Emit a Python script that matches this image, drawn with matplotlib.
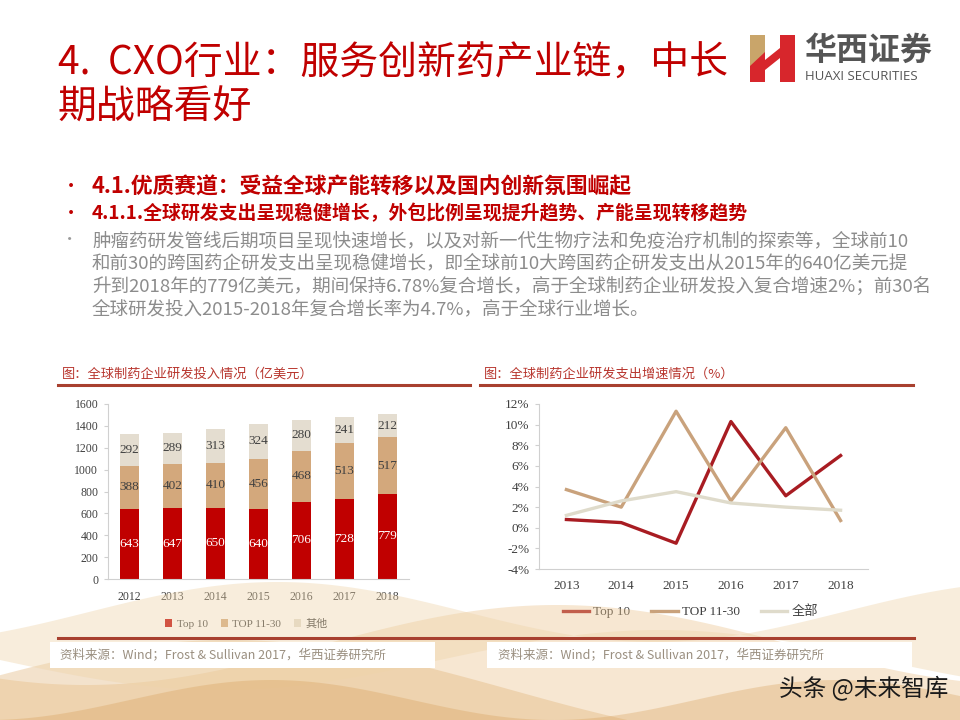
import numpy as np
import matplotlib.pyplot as plt
from matplotlib.patches import Polygon, Rectangle
from matplotlib.ticker import FuncFormatter

plt.rcParams['font.family'] = ['Noto Sans CJK SC', 'DejaVu Sans']

# data
years_bar = ['2012', '2013', '2014', '2015', '2016', '2017', '2018']
top10 = [643, 647, 650, 640, 706, 728, 779]
top11_30 = [388, 402, 410, 456, 468, 513, 517]
others = [292, 289, 313, 324, 280, 241, 212]

years_line = ['2013', '2014', '2015', '2016', '2017', '2018']
g_top10 = [0.8, 0.5, -1.5, 10.3, 3.1, 7.0]
g_top11_30 = [3.7, 2.0, 11.3, 2.6, 9.7, 0.7]
g_all = [1.2, 2.6, 3.5, 2.4, 2.0, 1.7]

bar_labels = ['Top 10', 'TOP 11-30', '其他']
line_labels = ['Top 10', 'TOP 11-30', '全部']

RED = '#C00000'
TAN = '#D3A87C'
LIGHT = '#E4DDD0'
TITLE_RED = '#C00000'
SERIF = ['Liberation Serif', 'Noto Sans CJK SC']

W, H = 960, 720
fig = plt.figure(figsize=(9.6, 7.2), dpi=100)


def fx(x):
    return x / W


def fy(y):
    return 1 - y / H


# background waves at the bottom (decoration)
t = np.linspace(0, W, 200)
waves = [
    (645 + 40 * np.sin(t / 150 + 1.0), 720, '#EBC48F', 0.40),
    (690 - 50 * np.sin(t / 180 + 0.3), 720, '#DFAE6E', 0.35),
    (612 + 30 * np.sin(t / 120 + 2.4), 660 + 30 * np.sin(t / 140), '#EED3A8', 0.40),
    (700 + 20 * np.sin(t / 90 + 1.7), 720, '#D59A50', 0.30),
]
for top, bottom, col, a in waves:
    bot = np.full_like(t, bottom) if np.isscalar(bottom) else bottom
    pts = np.column_stack([np.r_[t, t[::-1]] / W, 1 - np.r_[top, bot[::-1]] / H])
    fig.patches.append(Polygon(pts, closed=True, transform=fig.transFigure,
                               facecolor=col, edgecolor='none', alpha=a, zorder=0))

# white boxes behind source lines
fig.patches.append(Rectangle((fx(50), fy(668)), fx(385), 26 / H, transform=fig.transFigure,
                             facecolor='white', edgecolor='none', zorder=1))
fig.patches.append(Rectangle((fx(487), fy(668)), fx(425), 26 / H, transform=fig.transFigure,
                             facecolor='white', edgecolor='none', zorder=1))

# title
fig.text(fx(58), fy(64), '4.  CXO行业：服务创新药产业链，中长', fontsize=28,
         color=TITLE_RED, va='center', ha='left')
fig.text(fx(58), fy(108), '期战略看好', fontsize=28, color=TITLE_RED, va='center', ha='left')

# logo
fig.patches.append(Polygon([(fx(750), fy(35)), (fx(765), fy(35)), (fx(765), fy(82)), (fx(750), fy(82))],
                           transform=fig.transFigure, facecolor='#D7262C', edgecolor='none'))
fig.patches.append(Polygon([(fx(780), fy(35)), (fx(795), fy(35)), (fx(795), fy(82)), (fx(780), fy(82))],
                           transform=fig.transFigure, facecolor='#D7262C', edgecolor='none'))
fig.patches.append(Polygon([(fx(765), fy(60)), (fx(780), fy(48)), (fx(780), fy(58)), (fx(765), fy(70))],
                           transform=fig.transFigure, facecolor='#D7262C', edgecolor='none'))
fig.patches.append(Polygon([(fx(750), fy(35)), (fx(765), fy(35)), (fx(765), fy(52)), (fx(750), fy(66))],
                           transform=fig.transFigure, facecolor='#C9A56A', edgecolor='none'))
fig.text(fx(804), fy(51), '华西证券', fontsize=23, color='#555555', fontweight='bold', va='center')
fig.text(fx(805), fy(76), 'HUAXI SECURITIES', fontsize=9.5, color='#555555', va='center',
         family=['Open Sans', 'DejaVu Sans'])

# bullets
fig.text(fx(62), fy(187), '•', fontsize=13, color=TITLE_RED, va='center')
fig.text(fx(92), fy(187), '4.1.优质赛道：受益全球产能转移以及国内创新氛围崛起', fontsize=15.7,
         color=TITLE_RED, fontweight='bold', va='center')
fig.text(fx(62), fy(214), '•', fontsize=13, color=TITLE_RED, va='center')
fig.text(fx(92), fy(214), '4.1.1.全球研发支出呈现稳健增长，外包比例呈现提升趋势、产能呈现转移趋势',
         fontsize=13.6, color=TITLE_RED, fontweight='bold', va='center')
fig.text(fx(62), fy(240), '•', fontsize=11, color='#9A9A9A', va='center')
para = [
    '肿瘤药研发管线后期项目呈现快速增长，以及对新一代生物疗法和免疫治疗机制的探索等，全球前10',
    '和前30的跨国药企研发支出呈现稳健增长，即全球前10大跨国药企研发支出从2015年的640亿美元提',
    '升到2018年的779亿美元，期间保持6.78%复合增长，高于全球制药企业研发投入复合增速2%；前30名',
    '全球研发投入2015-2018年复合增长率为4.7%，高于全球行业增长。',
]
for i, line in enumerate(para):
    fig.text(fx(92), fy(241 + 22.7 * i), line, fontsize=13.35, color='#8C8C8C', va='center')

# chart captions and rules
CAP = '#B8362E'
fig.text(fx(62), fy(374), '图：全球制药企业研发投入情况（亿美元）', fontsize=9.5, color=CAP, va='center')
fig.text(fx(484), fy(374), '图：全球制药企业研发支出增速情况（%）', fontsize=9.5, color=CAP, va='center')
fig.add_artist(plt.Line2D([fx(58), fx(470)], [fy(385), fy(385)], color='#A8402F', lw=2.2))
fig.add_artist(plt.Line2D([fx(480), fx(913)], [fy(385), fy(385)], color='#A8402F', lw=2.2))
fig.add_artist(plt.Line2D([fx(58), fx(914)], [fy(638), fy(638)], color='#A8402F', lw=2.2))

# sources
src = '资料来源：Wind；Frost & Sullivan 2017，华西证券研究所'
fig.text(fx(60), fy(655), src, fontsize=9, color='#9A8F80', va='center', zorder=3)
fig.text(fx(498), fy(655), src, fontsize=9, color='#9A8F80', va='center', zorder=3)
fig.text(fx(948), fy(688), '头条 @未来智库', fontsize=17, color='#1A1A1A', va='center', ha='right',
         zorder=3)

# bar chart
ax1 = fig.add_axes([fx(108), fy(579), fx(409 - 108), (579 - 404) / H])
x = np.arange(len(years_bar))
bw = 0.42
b1 = np.array(top10)
b2 = np.array(top11_30)
b3 = np.array(others)
ax1.bar(x, b1, bw, color=RED, label=bar_labels[0])
ax1.bar(x, b2, bw, bottom=b1, color=TAN, label=bar_labels[1])
ax1.bar(x, b3, bw, bottom=b1 + b2, color=LIGHT, label=bar_labels[2])
for i in range(len(x)):
    ax1.text(x[i], b1[i] / 2, str(b1[i]), ha='center', va='center', color='white',
             fontsize=9.5, family=SERIF)
    ax1.text(x[i], b1[i] + b2[i] / 2, str(b2[i]), ha='center', va='center', color='#404040',
             fontsize=9.5, family=SERIF)
    ax1.text(x[i], b1[i] + b2[i] + b3[i] / 2, str(b3[i]), ha='center', va='center', color='#404040',
             fontsize=9.5, family=SERIF)
ax1.set_xlim(-0.5, 6.5)
ax1.set_ylim(0, 1600)
ax1.set_yticks(range(0, 1601, 200))
ax1.set_xticks(x)
ax1.set_xticklabels(years_bar)
for s in ['top', 'right']:
    ax1.spines[s].set_visible(False)
ax1.spines['left'].set_color('#D0D0D0')
ax1.spines['bottom'].set_color('#D0D0D0')
ax1.tick_params(axis='y', length=3, color='#D0D0D0', labelsize=8.5, labelcolor='#404040', pad=4)
ax1.tick_params(axis='x', length=0, labelsize=8.5, labelcolor='#404040', pad=9)
for lab in ax1.get_xticklabels() + ax1.get_yticklabels():
    lab.set_family(SERIF)
ax1.patch.set_alpha(0)
ax1.legend(loc='upper center', bbox_to_anchor=(0.46, -0.17), ncol=3, frameon=False,
           handlelength=0.6, handleheight=0.6, handletextpad=0.4, columnspacing=1.2,
           prop={'family': SERIF, 'size': 8}, labelcolor='#404040')

# line chart
ax2 = fig.add_axes([fx(539), fy(569), fx(868 - 539), (569 - 404) / H])
xl = np.arange(len(years_line))
ax2.plot(xl, g_top10, color='#A81C22', lw=2.4, label=line_labels[0])
ax2.plot(xl, g_top11_30, color='#C9A27C', lw=2.4, label=line_labels[1])
ax2.plot(xl, g_all, color='#DFDBCB', lw=2.4, label=line_labels[2])
ax2.set_xlim(-0.5, 5.5)
ax2.set_ylim(-4, 12)
ax2.set_yticks(range(-4, 13, 2))
ax2.yaxis.set_major_formatter(FuncFormatter(lambda v, p: f'{v:.0f}%'))
ax2.set_xticks(xl)
ax2.set_xticklabels(years_line)
for s in ['top', 'right']:
    ax2.spines[s].set_visible(False)
ax2.spines['left'].set_color('#D0D0D0')
ax2.spines['bottom'].set_color('#D0D0D0')
ax2.tick_params(axis='y', length=3, color='#D0D0D0', labelsize=9.5, labelcolor='#404040', pad=4)
ax2.tick_params(axis='x', length=0, labelsize=9.5, labelcolor='#404040', pad=8)
for lab in ax2.get_xticklabels() + ax2.get_yticklabels():
    lab.set_family(SERIF)
ax2.patch.set_alpha(0)
ax2.legend(loc='upper center', bbox_to_anchor=(0.46, -0.15), ncol=3, frameon=False,
           handlelength=2.0, handletextpad=0.3, columnspacing=1.6,
           prop={'family': SERIF, 'size': 9.5}, labelcolor='#404040')

fig.savefig('out.png', dpi=100)
